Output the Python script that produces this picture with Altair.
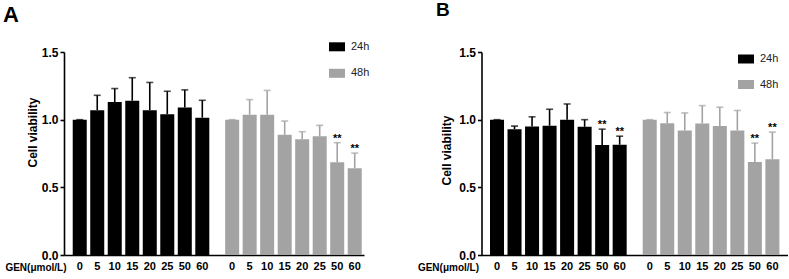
import altair as alt
import pandas as pd

FONT = "Liberation Sans"

doses = ["0", "5", "10", "15", "20", "25", "50", "60"]
groups = ["24h", "48h"]
colors = ["#000000", "#a3a3a3"]

# Panel A
a_24_mean = [1.00, 1.07, 1.13, 1.14, 1.07, 1.04, 1.09, 1.015]
a_24_sd = [0.00, 0.11, 0.10, 0.17, 0.205, 0.17, 0.13, 0.128]
a_24_sig = ["", "", "", "", "", "", "", ""]
a_48_mean = [1.00, 1.037, 1.037, 0.889, 0.855, 0.877, 0.685, 0.641]
a_48_sd = [0.00, 0.111, 0.179, 0.101, 0.056, 0.081, 0.145, 0.112]
a_48_sig = ["", "", "", "", "", "", "**", "**"]

# Panel B
b_24_mean = [1.00, 0.930, 0.950, 0.955, 1.00, 0.947, 0.812, 0.815]
b_24_sd = [0.00, 0.022, 0.071, 0.122, 0.116, 0.053, 0.118, 0.063]
b_24_sig = ["", "", "", "", "", "", "**", "**"]
b_48_mean = [1.00, 0.974, 0.920, 0.972, 0.954, 0.920, 0.687, 0.707]
b_48_sd = [0.00, 0.079, 0.130, 0.132, 0.138, 0.148, 0.140, 0.201]
b_48_sig = ["", "", "", "", "", "", "**", "**"]

y_ticks = [0.0, 0.5, 1.0, 1.5]


def make_df(m24, s24, g24, m48, s48, g48):
    rows = []
    for grp, means, sds, sigs in (("24h", m24, s24, g24), ("48h", m48, s48, g48)):
        for d, m, s, sg in zip(doses, means, sds, sigs):
            rows.append({"group": grp, "dose": d, "viability": m,
                         "upper": m + s, "sig": sg})
    return pd.DataFrame(rows)


def panel(df, letter, letter_size, letter_offset, letter_dx, width, align,
          pad_inner, pad_outer, ytitle_y, ytitle_x, gen_x, legend_x,
          legend_y, row_pad):
    H = 203
    xs = alt.Scale(domain=groups, paddingInner=pad_inner,
                   paddingOuter=pad_outer, align=align)
    xaxis = alt.Axis(labels=False, ticks=False, domainColor="black",
                     domainWidth=1.6, title="GEN(μmol/L)", titleX=gen_x,
                     titleY=12, titleAlign="right", titleBaseline="middle",
                     titleFont=FONT, titleFontSize=10, titleFontWeight="bold",
                     titleColor="black")
    x = alt.X("group:N", scale=xs, axis=xaxis)
    xo = alt.XOffset("dose:N", sort=doses,
                     scale=alt.Scale(domain=doses, paddingInner=0.2,
                                     paddingOuter=0.1))
    yaxis = alt.Axis(values=y_ticks, format=".1f", grid=False,
                     domainColor="black", domainWidth=1.6, tickColor="black",
                     tickWidth=1.6, tickSize=4, labelPadding=2,
                     labelFont=FONT, labelFontSize=12, labelFontWeight="bold",
                     labelColor="black", title="Cell viability",
                     titleFont=FONT, titleFontSize=12, titleFontWeight="bold",
                     titleColor="black", titleX=ytitle_x, titleY=ytitle_y,
                     titleAlign="center", titleBaseline="middle")
    y = alt.Y("viability:Q", scale=alt.Scale(domain=[0, 1.5], nice=False),
              axis=yaxis)
    legend = alt.Legend(orient="none", legendX=legend_x, legendY=legend_y,
                        title=None, symbolType="M-1,-0.5625H1V0.5625H-1Z",
                        symbolSize=256, symbolStrokeWidth=0,
                        labelFont=FONT, labelFontSize=11, labelColor="#222",
                        labelOffset=6, rowPadding=row_pad, padding=0)
    color = alt.Color("group:N", scale=alt.Scale(domain=groups, range=colors),
                      legend=legend)
    color_nl = alt.Color("group:N", legend=None)

    base = alt.Chart(df)
    bars = base.mark_bar().encode(x=x, xOffset=xo, y=y, color=color)
    rules = base.mark_rule(strokeWidth=1.6).encode(
        x="group:N", xOffset="dose:N", y="viability:Q", y2="upper:Q",
        color=color_nl)
    caps = base.mark_tick(size=7, thickness=1.6).encode(
        x="group:N", xOffset="dose:N", y="upper:Q", color=color_nl)
    stars = base.mark_text(font=FONT, fontSize=11, fontWeight="bold",
                           baseline="alphabetic", dy=-1, color="black").encode(
        x="group:N", xOffset="dose:N", y="upper:Q", text="sig:N")
    labels = base.mark_text(font=FONT, fontSize=11, fontWeight="bold",
                            baseline="middle", dy=12, color="black").encode(
        x="group:N", xOffset="dose:N", y=alt.datum(0), text="dose:N")

    return alt.layer(bars, rules, caps, stars, labels).properties(
        width=width, height=H,
        title=alt.TitleParams(letter, anchor="start", frame="group",
                              fontSize=letter_size, fontWeight="bold",
                              font=FONT, color="black", dx=letter_dx,
                              baseline="alphabetic", offset=letter_offset),
    )


df_a = make_df(a_24_mean, a_24_sd, a_24_sig, a_48_mean, a_48_sd, a_48_sig)
df_b = make_df(b_24_mean, b_24_sd, b_24_sig, b_48_mean, b_48_sd, b_48_sig)

pa = panel(df_a, "A", 22, -5, -61, 300, 0.93, 0.081, 0.0246,
           80, -32, 2, 265, -13.2, 13.5)
pb = panel(df_b, "B", 19, 11, -45.5, 306, 0.515, 0.082, 0.0429,
           98, -35, -3, 256.5, -1, 12.5)

chart = alt.hconcat(pa, pb, spacing=46.5).resolve_scale(
    color="independent", x="independent", xOffset="independent"
).resolve_legend(color="independent").properties(
    padding={"left": 3, "top": 1, "right": 1, "bottom": 2}
).configure_view(stroke=None)

chart.save("out.html", embed_options={"renderer": "svg", "actions": False})
